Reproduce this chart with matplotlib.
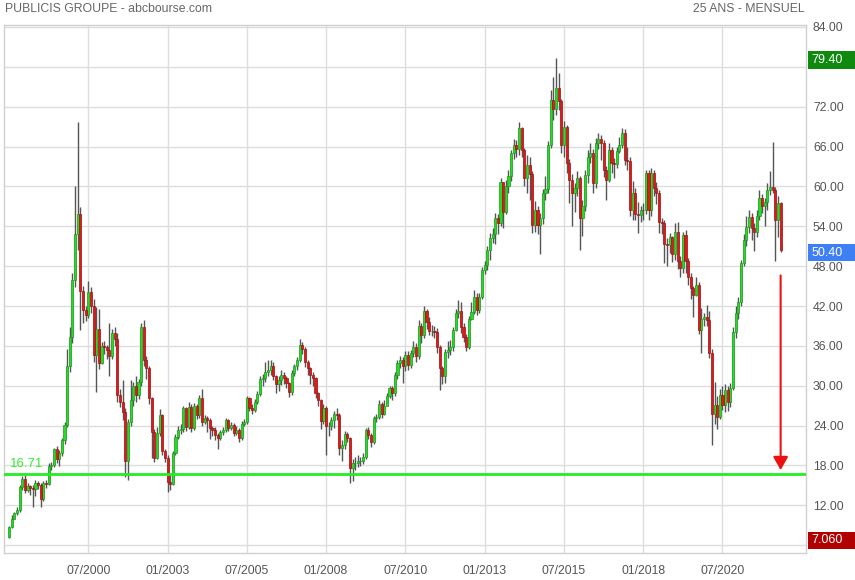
import numpy as np
import pandas as pd
import matplotlib
matplotlib.use("Agg")
import matplotlib.pyplot as plt
from matplotlib.patches import Rectangle

plt.rcParams['font.family'] = ['Liberation Sans', 'DejaVu Sans']

# monthly candles, jan 1998 -> may 2022 (one line per year)
first_open = 7.3
closes = [
    8.7, 10.0, 10.8, 11.3, 14.8, 15.9, 14.3, 14.9, 14.6, 14.5, 15.4, 15.1,
    12.9, 15.3, 15.2, 17.9, 18.0, 20.4, 19.0, 19.8, 21.8, 24.1, 32.9, 37.4,
    45.9, 52.9, 55.9, 44.2, 41.4, 40.6, 44.1, 42.0, 34.6, 38.5, 33.4, 36.0,
    35.9, 35.4, 34.4, 37.9, 37.1, 28.6, 27.6, 26.1, 18.6, 24.6, 27.8, 29.9,
    28.6, 30.6, 38.9, 33.9, 32.6, 28.1, 23.1, 19.1, 22.9, 25.6, 20.1, 19.1,
    15.5, 15.2, 19.8, 22.3, 23.3, 23.5, 26.6, 23.8, 26.8, 23.6, 26.9, 25.6,
    28.1, 24.6, 25.1, 24.8, 23.6, 23.4, 22.6, 22.1, 23.1, 23.3, 24.8, 23.6,
    24.1, 22.9, 23.4, 22.1, 24.3, 24.6, 28.1, 26.7, 26.4, 27.6, 28.8, 31.0,
    31.2, 32.0, 32.4, 33.0, 31.4, 30.3, 30.9, 31.6, 31.1, 30.4, 29.1, 31.9,
    32.9, 33.9, 36.1, 35.6, 33.6, 32.6, 31.6, 31.1, 28.9, 27.8, 24.7, 26.7,
    23.9, 23.9, 24.8, 25.8, 25.6, 20.6, 21.1, 22.8, 22.1, 17.6, 18.3, 18.4,
    18.6, 18.6, 19.3, 23.3, 22.6, 21.6, 25.1, 25.3, 27.3, 25.8, 27.0, 28.5,
    29.6, 28.9, 31.6, 33.4, 33.9, 32.9, 34.6, 33.1, 34.9, 35.9, 34.4, 39.0,
    37.6, 41.3, 39.6, 38.3, 38.3, 38.1, 35.9, 32.6, 31.4, 35.1, 35.4, 35.9,
    38.4, 41.0, 41.2, 38.9, 37.4, 35.9, 40.0, 41.1, 43.4, 41.4, 43.4, 47.4,
    48.2, 50.5, 52.2, 52.9, 55.2, 54.5, 60.6, 56.2, 60.0, 61.5, 65.0, 66.2,
    65.6, 68.75, 65.5, 61.2, 63.2, 61.9, 54.2, 56.5, 54.2, 55.2, 58.96, 59.6,
    66.2, 73.0, 71.7, 74.8, 72.8, 66.2, 68.9, 63.5, 61.0, 59.0, 59.7, 61.2,
    55.2, 57.0, 61.7, 64.5, 65.0, 60.5, 66.5, 67.2, 66.5, 62.5, 61.0, 65.5,
    63.5, 63.4, 65.4, 66.2, 68.0, 64.0, 63.9, 56.5, 59.0, 55.9, 55.7, 56.5,
    56.4, 62.0, 56.5, 62.0, 59.7, 59.0, 54.7, 54.5, 51.4, 51.2, 52.4, 49.9,
    53.2, 48.7, 47.7, 52.7, 48.7, 46.4, 44.7, 43.7, 45.2, 38.4, 40.1, 40.4,
    39.9, 34.9, 25.8, 27.1, 25.3, 28.6, 27.1, 29.4, 27.5, 29.7, 38.1, 40.9,
    42.6, 48.4, 51.9, 53.9, 55.4, 53.7, 53.2, 55.5, 58.2, 57.0, 57.6, 59.5,
    59.9, 59.5, 55.0, 57.5, 50.4,
]
highs = [
    8.9, 10.5, 11.0, 11.8, 15.1, 16.4, 16.5, 15.4, 15.1, 15.0, 15.8, 15.6,
    15.4, 15.6, 15.8, 18.3, 18.5, 20.6, 20.9, 20.3, 22.1, 24.6, 35.6, 38.8,
    46.9, 60.1, 69.7, 56.9, 45.0, 42.0, 45.8, 44.8, 43.0, 41.9, 41.5, 36.6,
    36.8, 36.2, 39.4, 38.5, 38.9, 38.0, 29.5, 30.9, 26.6, 25.0, 30.9, 30.5,
    31.4, 31.0, 39.4, 39.9, 34.5, 33.0, 28.3, 23.5, 23.8, 26.5, 25.8, 20.5,
    19.5, 16.5, 20.2, 22.8, 24.0, 24.2, 27.0, 26.8, 27.5, 27.3, 27.4, 27.2,
    28.6, 29.45, 25.6, 25.5, 25.2, 24.0, 23.8, 22.9, 23.4, 23.8, 25.2, 25.0,
    24.6, 24.4, 23.9, 23.7, 24.7, 25.0, 28.4, 28.3, 27.2, 28.0, 29.2, 31.5,
    31.8, 33.6, 33.9, 33.8, 33.5, 31.6, 31.4, 32.4, 32.0, 31.5, 30.6, 32.3,
    33.3, 34.3, 37.1, 36.6, 35.9, 33.8, 32.8, 32.0, 31.3, 29.0, 28.0, 27.3,
    26.9, 24.6, 25.3, 26.2, 26.6, 25.9, 21.8, 23.2, 23.1, 22.3, 19.0, 19.2,
    19.5, 19.3, 19.8, 23.6, 23.8, 22.9, 25.4, 25.8, 27.9, 27.5, 27.9, 28.9,
    30.0, 30.0, 32.0, 33.8, 34.5, 34.3, 35.3, 35.2, 35.4, 36.8, 36.4, 39.9,
    39.4, 42.0, 41.6, 40.4, 39.2, 39.0, 38.7, 36.2, 33.0, 35.5, 36.8, 36.9,
    38.9, 41.6, 42.9, 42.6, 39.4, 37.8, 40.5, 42.6, 44.4, 43.9, 44.0, 47.8,
    48.8, 51.0, 53.0, 53.8, 56.0, 55.8, 61.2, 60.5, 61.0, 62.5, 65.5, 67.1,
    67.0, 69.7, 68.9, 65.8, 64.8, 64.5, 62.3, 57.8, 57.0, 56.0, 59.6, 61.5,
    66.9, 74.5, 76.5, 79.4, 77.0, 73.2, 69.9, 69.3, 64.2, 61.8, 60.5, 62.3,
    61.6, 58.0, 62.5, 65.5, 66.6, 65.6, 67.3, 68.0, 67.8, 67.0, 63.0, 66.5,
    66.0, 64.3, 65.9, 67.4, 68.8, 68.7, 66.0, 64.5, 60.8, 59.7, 57.6, 57.0,
    57.5, 62.5, 62.4, 62.7, 62.5, 60.6, 59.5, 55.2, 55.0, 52.3, 53.0, 52.6,
    54.5, 54.7, 49.5, 53.2, 53.5, 49.3, 47.0, 45.0, 46.3, 45.6, 41.7, 41.0,
    42.2, 41.2, 35.5, 30.6, 28.5, 29.5, 30.0, 30.2, 30.0, 30.4, 38.9, 42.0,
    43.3, 49.0, 52.8, 55.6, 56.4, 56.0, 54.5, 56.5, 59.5, 58.8, 58.2, 60.5,
    62.3, 66.7, 59.9, 58.6, 57.6,
]
lows = [
    7.06, 8.6, 9.9, 10.5, 11.0, 14.3, 13.9, 14.0, 13.6, 11.8, 13.4, 14.5,
    11.8, 12.6, 14.6, 15.0, 17.3, 17.8, 18.3, 17.9, 19.4, 21.3, 23.8, 32.0,
    36.5, 44.8, 50.4, 38.4, 39.5, 39.8, 40.2, 41.0, 33.5, 29.1, 32.5, 33.2,
    34.8, 34.0, 31.4, 34.0, 36.0, 27.5, 26.8, 24.8, 16.3, 15.8, 24.0, 27.0,
    27.5, 28.0, 30.0, 33.0, 31.0, 27.2, 19.1, 18.5, 19.0, 22.5, 19.5, 18.5,
    14.0, 14.3, 15.0, 19.5, 22.0, 22.8, 23.0, 23.2, 23.5, 23.0, 23.4, 25.0,
    25.2, 24.0, 24.2, 23.0, 22.0, 22.5, 21.8, 20.5, 21.8, 22.6, 23.0, 23.2,
    23.3, 22.4, 22.6, 21.6, 21.8, 23.9, 24.2, 26.2, 25.8, 26.0, 27.3, 28.5,
    30.0, 30.6, 31.5, 31.6, 30.8, 28.9, 29.2, 30.1, 30.2, 29.7, 28.3, 28.6,
    31.5, 32.4, 33.6, 34.8, 32.8, 31.6, 30.3, 29.9, 28.2, 27.0, 23.5, 24.3,
    19.6, 22.5, 23.4, 23.6, 24.8, 19.6, 18.7, 20.5, 21.5, 15.3, 15.6, 17.3,
    17.8, 17.9, 18.2, 19.0, 22.0, 20.8, 21.3, 24.6, 25.0, 25.2, 25.6, 27.2,
    28.2, 27.9, 28.5, 31.0, 32.6, 30.4, 32.2, 32.4, 32.6, 34.3, 33.6, 34.0,
    36.4, 37.2, 38.6, 37.6, 37.5, 37.2, 35.0, 29.4, 30.3, 30.4, 34.2, 34.6,
    35.2, 38.2, 40.2, 38.0, 36.6, 35.2, 35.5, 39.9, 40.8, 40.6, 41.0, 43.0,
    46.8, 47.4, 49.0, 51.5, 51.4, 52.8, 54.0, 53.8, 55.8, 59.0, 60.8, 64.2,
    64.5, 64.8, 64.5, 60.0, 59.0, 58.0, 53.0, 53.2, 52.8, 49.8, 54.3, 58.0,
    59.0, 65.8, 70.0, 70.8, 71.5, 65.0, 64.5, 62.0, 57.5, 54.0, 56.2, 58.5,
    50.4, 52.5, 56.3, 60.5, 63.5, 59.0, 59.8, 65.6, 64.0, 61.4, 58.0, 60.6,
    62.0, 61.2, 62.8, 65.0, 65.8, 63.2, 62.5, 55.6, 55.0, 55.0, 53.0, 54.6,
    55.0, 55.8, 55.0, 55.6, 58.6, 57.4, 53.0, 52.8, 48.5, 48.0, 50.0, 48.6,
    49.0, 47.5, 46.3, 47.0, 46.9, 45.2, 43.0, 40.4, 43.5, 37.8, 35.0, 39.0,
    39.0, 34.2, 21.1, 24.3, 23.5, 25.0, 26.3, 26.0, 26.2, 26.8, 29.4, 37.2,
    40.0, 42.0, 48.0, 51.0, 53.0, 52.0, 50.3, 52.4, 55.0, 56.0, 54.0, 56.5,
    58.7, 59.0, 48.8, 52.4, 50.2,
]
tick_labels = ['07/2000', '01/2003', '07/2005', '01/2008', '07/2010',
               '01/2013', '07/2015', '01/2018', '07/2020']
y_ticks = [6, 12, 18, 24, 30, 36, 42, 48, 54, 60, 66, 72, 78, 84]
# 6 and 78 sit under the price tags, so their labels are not shown
y_hidden = [6, 78]
support = 16.71
max_high = 79.40
last_close = 50.40
min_low = 7.060

c = np.array(closes)
h = np.array(highs)
l = np.array(lows)
o = np.concatenate([[first_open], c[:-1]])
dates = pd.period_range('1998-01', periods=len(c), freq='M')
x = np.arange(len(c))
labels_all = list(dates.strftime('%m/%Y'))
tick_pos = [labels_all.index(t) for t in tick_labels]

fig = plt.figure(figsize=(8.55, 5.8), dpi=100)
ax = fig.add_axes([4 / 855, 27 / 580, 802 / 855, 528 / 580])
ax.set_xlim(-1.9, 301.6)
ax.set_ylim(4.82, 84.3)

# grid
ax.set_xticks(tick_pos)
ax.set_xticklabels(tick_labels)
ax.set_yticks(y_ticks)
ax.set_yticklabels(['' if v in y_hidden else '%.2f' % v for v in y_ticks])
ax.grid(True, color='#dddddd', lw=1)
ax.set_axisbelow(True)
ax.yaxis.tick_right()
ax.tick_params(axis='both', length=0, colors='#555555', labelsize=8.8)
ax.tick_params(axis='y', pad=5)
ax.tick_params(axis='x', pad=9)
for s in ax.spines.values():
    s.set_color('#d0d0d0')
    s.set_linewidth(1)

# candles
ax.vlines(x, l, h, color='#555555', lw=1, zorder=2)
up = c >= o
dn = ~up
ax.bar(x[up], (c - o)[up], bottom=o[up], width=0.8, color='#22dd22',
       edgecolor='#1a9a1a', lw=0.5, zorder=3)
ax.bar(x[dn], (o - c)[dn], bottom=c[dn], width=0.8, color='#e01818',
       edgecolor='#a01010', lw=0.5, zorder=3)

# support line + arrow
ax.axhline(support, color='#22ee22', lw=2, zorder=4)
ax.text(0.4, support + 0.55, '%.2f' % support, color='#33ee33', fontsize=9.5,
        va='bottom', ha='left')
ax.annotate('', xy=(len(c) - 1, 17.3), xytext=(len(c) - 1, 46.6),
            arrowprops=dict(arrowstyle='-|>,head_length=0.8,head_width=0.45',
                            color='#ee1111', lw=1.5, mutation_scale=10,
                            shrinkA=0, shrinkB=0), zorder=5)

# price tags on the right
tr = ax.get_yaxis_transform()
for v, txt, col in [(max_high, '%.2f' % max_high, '#0f8a0f'),
                    (last_close, '%.2f' % last_close, '#3f7ff5'),
                    (min_low, '%.3f' % min_low, '#b00000')]:
    yc = v - 0.35
    ax.add_patch(Rectangle((1.003, yc - 1.3), 0.07, 2.6, transform=tr,
                           facecolor=col, edgecolor='none', clip_on=False, zorder=6))
    ax.text(1.007, yc, txt, transform=tr, color='white', fontsize=9,
            va='center', ha='left', zorder=7)

fig.text(5 / 855, 1 - 9 / 580, 'PUBLICIS GROUPE - abcbourse.com', color='#666666',
         fontsize=8.8, va='center', ha='left')
fig.text(805 / 855, 1 - 9 / 580, '25 ANS - MENSUEL', color='#666666',
         fontsize=8.8, va='center', ha='right')

fig.savefig('out.png', dpi=100)
